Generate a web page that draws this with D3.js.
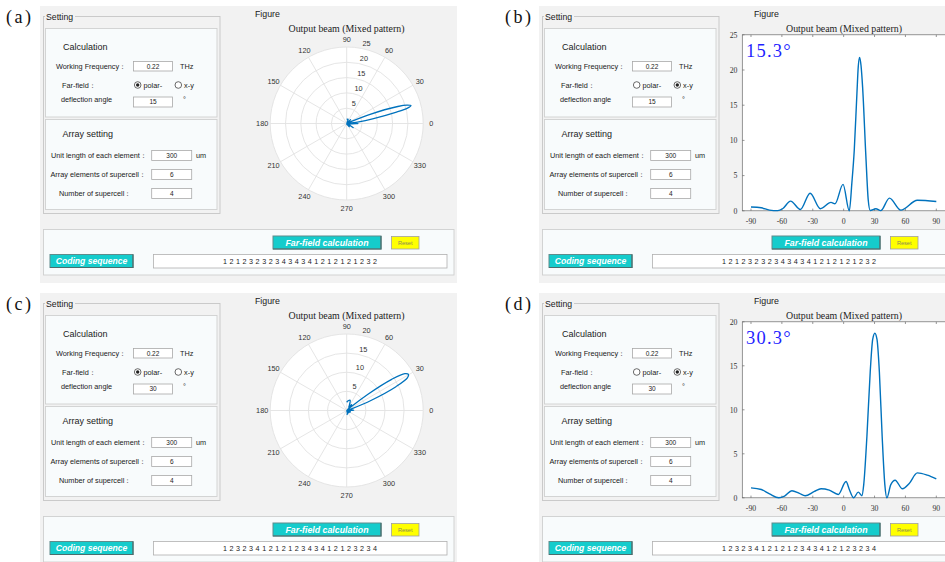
<!DOCTYPE html>
<html>
<head>
<meta charset="utf-8">
<script src="https://cdn.jsdelivr.net/npm/d3@7"></script>
<style>
  body { margin: 0; background: #fff; }
  svg { display: block; }
</style>
</head>
<body>
<svg id="chart" width="945" height="562"></svg>
<script>
// ---------------- data ----------------
const panelLetters = ["(a)", "(b)", "(c)", "(d)"];
const plotModes = ["polar", "xy", "polar", "xy"];
const deflectionAngles = ["15", "15", "30", "30"];
const workingFrequency = "0.22";
const unitLength = "300";
const elementsPerSupercell = "6";
const supercellCount = "4";

const codingSeq15 = [1,2,1,2,3,2,3,2,3,4,3,4,3,4,1,2,1,2,1,2,1,2,3,2];
const codingSeq30 = [1,2,3,2,3,4,1,2,1,2,1,2,3,4,3,4,1,2,1,2,3,2,3,4];

// far-field pattern, 15° design
const beamAngles15 = [-90,-80,-72,-64,-59,-51.6,-42,-32.6,-22.6,-12.3,-8.4,-0.6,5.5,8,10.3,12.9,14.2,15.5,16.9,18.4,21.6,23.9,25.8,31.3,36,44.5,55.5,71.6,90];
const beamValues15 = [0.55,0.43,0.1,0.02,0.33,1.38,0.19,2.5,0.3,1.19,1.0,3.75,0,4.0,8.6,16.7,20.5,21.8,20.6,17.6,7.7,1.5,0.05,0.3,0.02,1.8,0.1,1.5,1.33];

// far-field pattern, 30° design
const beamAngles30 = [-90,-80,-72,-63,-57.4,-50.3,-43,-37.4,-28.4,-22,-14,-5.2,2.3,5.5,9.7,14.2,17.7,19.5,22.6,25.8,28.2,30.3,32.4,34.7,37.4,40,42,45.8,50,57.1,63.5,71.6,81.3,90];
const beamValues30 = [1.13,0.94,0.45,0,0.2,0.8,0.5,0.23,0.72,1.02,0.87,0.38,1.85,0.95,0,0.64,0.23,1.5,7.0,14.3,18.0,18.7,18.0,14.3,7.0,1.5,0,1.5,2.0,1.02,1.6,2.83,2.57,2.15];

const peakLabels = ["15.3°", "30.3°"];
const ringTicks15 = [5, 10, 15, 20, 25];
const ringTicks30 = [5, 10, 15, 20];
const yTicks15 = [0, 5, 10, 15, 20, 25];
const yTicks30 = [0, 5, 10, 15, 20];
const xTicks = [-90, -60, -30, 0, 30, 60, 90];
const angleTicks = [0, 30, 60, 90, 120, 150, 180, 210, 240, 270, 300, 330];

// ---------------- setup ----------------
const W = 945, H = 562;
const SANS = "'Liberation Sans', Arial, Helvetica, sans-serif";
const SERIF = "'Liberation Serif', 'Times New Roman', serif";
const LINE_BLUE = "#0072BD";
const svg = d3.select("#chart");

const panelOffsets = [[0, 0], [499, 0], [0, 287], [499, 287]];

const panels = [
  { seq: codingSeq15, angles: beamAngles15, values: beamValues15, rings: ringTicks15, yTicks: yTicks15, peak: peakLabels[0] },
  { seq: codingSeq15, angles: beamAngles15, values: beamValues15, rings: ringTicks15, yTicks: yTicks15, peak: peakLabels[0] },
  { seq: codingSeq30, angles: beamAngles30, values: beamValues30, rings: ringTicks30, yTicks: yTicks30, peak: peakLabels[1] },
  { seq: codingSeq30, angles: beamAngles30, values: beamValues30, rings: ringTicks30, yTicks: yTicks30, peak: peakLabels[1] }
];

function text(g, x, y, s, size, o = {}) {
  return g.append("text")
    .attr("x", x).attr("y", y)
    .attr("font-family", o.family || SANS)
    .attr("font-size", size)
    .attr("fill", o.fill || "#1a1a1a")
    .attr("text-anchor", o.anchor || "start")
    .attr("font-weight", o.weight || "normal")
    .attr("font-style", o.style || "normal")
    .text(s);
}

function inputBox(g, x, y, w, h, val) {
  g.append("rect").attr("x", x).attr("y", y).attr("width", w).attr("height", h)
    .attr("fill", "#fff").attr("stroke", "#a8a8a8").attr("stroke-width", 0.8);
  text(g, x + w / 2, y + h / 2 + 2.3, val, 6.5, { anchor: "middle", fill: "#222" });
}

function radio(g, cx, cy, checked, label) {
  g.append("circle").attr("cx", cx).attr("cy", cy).attr("r", 3.3)
    .attr("fill", "#fff").attr("stroke", "#444").attr("stroke-width", 0.8);
  if (checked) g.append("circle").attr("cx", cx).attr("cy", cy).attr("r", 1.7).attr("fill", "#222");
  text(g, cx + 5.8, cy + 2.6, label, 7.3);
}

function button(g, x, y, w, h, label, size) {
  g.append("rect").attr("x", x).attr("y", y).attr("width", w).attr("height", h)
    .attr("fill", "#15cccc").attr("stroke", "#5f8c8c").attr("stroke-width", 1);
  // darker lower/right edge of the raised button
  g.append("path")
    .attr("d", `M${x + w},${y} V${y + h} H${x}`)
    .attr("fill", "none").attr("stroke", "#4a6d6d").attr("stroke-width", 1.2);
  text(g, x + w / 2, y + h / 2 + size * 0.36, label, size,
    { anchor: "middle", fill: "#fff", weight: "bold", style: "italic" });
}

function drawWindow(g, i, ox, oy) {
  const p = panels[i];
  const mode = plotModes[i];
  // window background
  g.append("rect").attr("x", 40).attr("y", 6)
    .attr("width", Math.min(417, W - ox - 40)).attr("height", Math.min(277, H - oy - 6))
    .attr("fill", "#f2f2f2");

  // panel letter
  text(g, 6, 23, panelLetters[i], 18, { family: SERIF, fill: "#111" }).attr("letter-spacing", 2.5);

  // Setting group
  g.append("rect").attr("x", 43.5).attr("y", 16.5).attr("width", 176.5).attr("height", 197)
    .attr("fill", "none").attr("stroke", "#c6c6c6").attr("stroke-width", 0.9);
  g.append("rect").attr("x", 45).attr("y", 11).attr("width", 30).attr("height", 10).attr("fill", "#f2f2f2");
  text(g, 46, 20, "Setting", 8.7);

  // Calculation block
  g.append("rect").attr("x", 45.5).attr("y", 28.5).attr("width", 171.5).attr("height", 88.5)
    .attr("fill", "#f8fbfc").attr("stroke", "#d0d0d0").attr("stroke-width", 0.9);
  text(g, 63, 50, "Calculation", 9);
  text(g, 56, 68.6, "Working Frequency：", 7.3);
  inputBox(g, 133.5, 61.5, 39, 9.5, workingFrequency);
  text(g, 180, 68.6, "THz", 7.3);
  text(g, 62, 87.6, "Far-field：", 7.3);
  radio(g, 137.7, 85, mode === "polar", "polar-");
  radio(g, 178.3, 85, mode === "xy", "x-y");
  text(g, 61, 102, "deflection angle", 7.3);
  inputBox(g, 133.5, 97, 39, 10, deflectionAngles[i]);
  text(g, 183, 101.5, "°", 7.3);

  // Array setting block
  g.append("rect").attr("x", 45.5).attr("y", 119.5).attr("width", 171.5).attr("height", 90)
    .attr("fill", "#f8fbfc").attr("stroke", "#d0d0d0").attr("stroke-width", 0.9);
  text(g, 62.5, 136.5, "Array setting", 9);
  text(g, 51, 157.6, "Unit length of each element：", 7.3);
  inputBox(g, 151.7, 150.5, 40, 10, unitLength);
  text(g, 196, 157.6, "um", 7.3);
  text(g, 50.5, 176.6, "Array elements of supercell：", 7.3);
  inputBox(g, 151.7, 169.5, 40, 10, elementsPerSupercell);
  text(g, 59, 195.6, "Number of supercell：", 7.3);
  inputBox(g, 151.7, 188.5, 40, 10, supercellCount);

  // control strip
  g.append("rect").attr("x", 43.5).attr("y", 229.5).attr("width", 410.5).attr("height", 45.5)
    .attr("fill", "#f8fbfc").attr("stroke", "#cfcfcf").attr("stroke-width", 0.9);
  button(g, 273, 236, 108, 13, "Far-field calculation", 8.8);
  g.append("rect").attr("x", 391.5).attr("y", 236.5).attr("width", 27.5).attr("height", 12.5)
    .attr("fill", "#ffff00").attr("stroke", "#a0a0a0").attr("stroke-width", 0.8);
  text(g, 405.2, 245, "Reset", 5.6, { anchor: "middle", fill: "#8a8a55" });
  button(g, 50, 254.5, 83, 13, "Coding sequence", 8.6);
  g.append("rect").attr("x", 153.5).attr("y", 254.5).attr("width", 293.5).attr("height", 13.5)
    .attr("fill", "#fff").attr("stroke", "#b0b0b0").attr("stroke-width", 0.8);
  text(g, 300, 263.8, p.seq.join(" "), 7.2, { anchor: "middle", fill: "#222" })
    .attr("textLength", 154).attr("lengthAdjust", "spacing");

  // figure header
  text(g, 255, 17.3, "Figure", 8.8);

  if (mode === "polar") drawPolar(g, p); else drawXY(g, p);
}

function drawPolar(g, p) {
  const cx = 346.7, cy = 123.5, R = 76.5;
  const rmax = p.rings[p.rings.length - 1];
  const r = d3.scaleLinear().domain([0, rmax]).range([0, R]);
  text(g, 346.5, 32.3, "Output beam (Mixed pattern)", 9.9, { family: SERIF, anchor: "middle", fill: "#222" });

  const pg = g.append("g").attr("transform", `translate(${cx},${cy})`);
  pg.append("circle").attr("r", R).attr("fill", "#fff");
  pg.selectAll("circle.ring").data(p.rings).join("circle").attr("class", "ring")
    .attr("r", d => r(d)).attr("fill", "none").attr("stroke", "#e2e2e2").attr("stroke-width", 0.9);
  pg.selectAll("line.spoke").data(angleTicks).join("line").attr("class", "spoke")
    .attr("x1", 0).attr("y1", 0)
    .attr("x2", d => R * Math.cos(d * Math.PI / 180))
    .attr("y2", d => -R * Math.sin(d * Math.PI / 180))
    .attr("stroke", "#e2e2e2").attr("stroke-width", 0.9);

  // angle labels
  pg.selectAll("text.ang").data(angleTicks).join("text").attr("class", "ang")
    .attr("x", d => (R + 8) * Math.cos(d * Math.PI / 180))
    .attr("y", d => -(R + 8) * Math.sin(d * Math.PI / 180) + 2.6)
    .attr("text-anchor", "middle").attr("font-family", SANS).attr("font-size", 7.3)
    .attr("fill", "#333").text(d => d);

  // radial labels
  const a80 = 80 * Math.PI / 180;
  pg.selectAll("text.rl").data(p.rings).join("text").attr("class", "rl")
    .attr("x", d => r(d) * Math.cos(a80) + 2.5)
    .attr("y", d => -r(d) * Math.sin(a80) - 2.5)
    .attr("font-family", SANS).attr("font-size", 7.3).attr("fill", "#333").text(d => d);

  const pts = p.angles.map((a, k) => ({ a, v: p.values[k] }));
  const line = d3.lineRadial()
    .angle(d => Math.PI / 2 - d.a * Math.PI / 180)
    .radius(d => r(d.v))
    .curve(d3.curveCatmullRom.alpha(0.5));
  pg.append("path").datum(pts).attr("d", line)
    .attr("fill", "none").attr("stroke", LINE_BLUE).attr("stroke-width", 1.3);
}

function drawXY(g, p) {
  const left = 243.3, right = 447.6, top = 34.8, bottom = 210.8;
  const ymax = p.yTicks[p.yTicks.length - 1];
  const x = d3.scaleLinear().domain([-98.45, 100]).range([left, right]);
  const y = d3.scaleLinear().domain([0, ymax]).range([bottom, top]);

  text(g, 345, 31.5, "Output beam (Mixed pattern)", 9.9, { family: SERIF, anchor: "middle", fill: "#222" });
  g.append("rect").attr("x", left).attr("y", top).attr("width", right - left).attr("height", bottom - top)
    .attr("fill", "#fff").attr("stroke", "#6a6a6a").attr("stroke-width", 0.7);

  // ticks
  g.selectAll("line.xt").data(xTicks).join("line").attr("class", "xt")
    .attr("x1", d => x(d)).attr("x2", d => x(d)).attr("y1", bottom).attr("y2", bottom - 2.2)
    .attr("stroke", "#6a6a6a").attr("stroke-width", 0.7);
  g.selectAll("line.xt2").data(xTicks).join("line").attr("class", "xt2")
    .attr("x1", d => x(d)).attr("x2", d => x(d)).attr("y1", top).attr("y2", top + 2.2)
    .attr("stroke", "#6a6a6a").attr("stroke-width", 0.7);
  g.selectAll("line.yt").data(p.yTicks).join("line").attr("class", "yt")
    .attr("x1", left).attr("x2", left + 2.2).attr("y1", d => y(d)).attr("y2", d => y(d))
    .attr("stroke", "#6a6a6a").attr("stroke-width", 0.7);

  g.selectAll("text.xl").data(xTicks).join("text").attr("class", "xl")
    .attr("x", d => x(d)).attr("y", bottom + 13.5)
    .attr("text-anchor", "middle").attr("font-family", SERIF).attr("font-size", 7.8)
    .attr("fill", "#333").text(d => d);
  g.selectAll("text.yl").data(p.yTicks).join("text").attr("class", "yl")
    .attr("x", left - 4.8).attr("y", d => y(d) + 2.7)
    .attr("text-anchor", "end").attr("font-family", SERIF).attr("font-size", 7.8)
    .attr("fill", "#333").text(d => d);

  const pts = p.angles.map((a, k) => ({ a, v: p.values[k] }));
  const line = d3.line().x(d => x(d.a)).y(d => y(d.v)).curve(d3.curveMonotoneX);
  g.append("path").datum(pts).attr("d", line)
    .attr("fill", "none").attr("stroke", LINE_BLUE).attr("stroke-width", 1.4);

  text(g, 247, 57, p.peak, 18.5, { family: SERIF, fill: "#1f1fff" }).attr("letter-spacing", 1.2);
}

panels.forEach((p, i) => {
  const [ox, oy] = panelOffsets[i];
  const g = svg.append("g").attr("transform", `translate(${ox},${oy})`);
  drawWindow(g, i, ox, oy);
});
</script>
</body>
</html>
